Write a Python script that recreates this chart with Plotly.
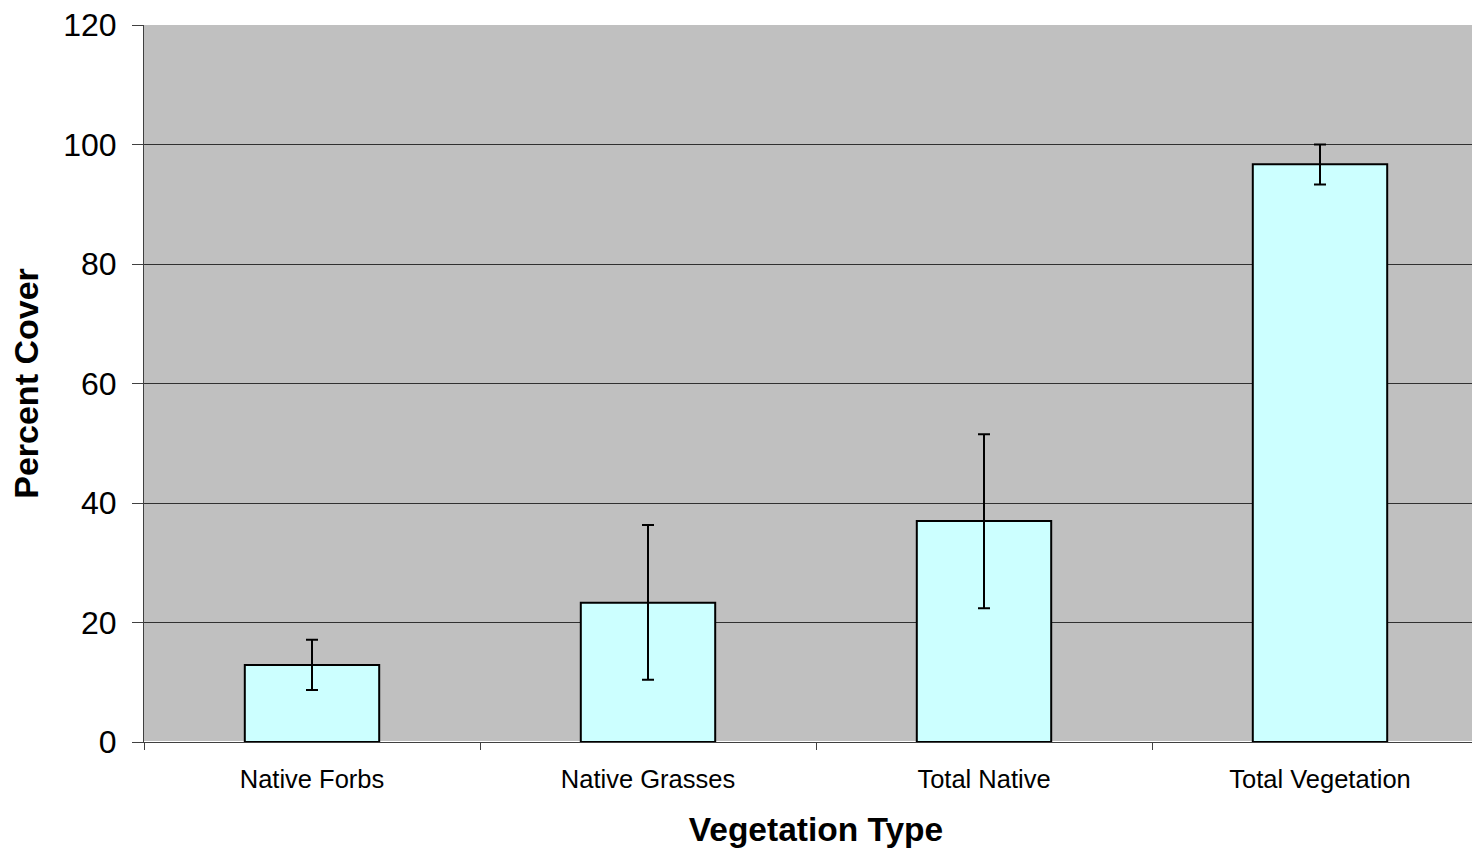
import plotly.graph_objects as go

categories = ["Native Forbs", "Native Grasses", "Total Native", "Total Vegetation"]
means = [12.9, 23.3, 37.0, 96.7]
err_plus = [4.2, 13.0, 14.5, 3.3]
err_minus = [4.2, 12.9, 14.6, 3.4]

fig = go.Figure()
fig.add_trace(go.Bar(
    x=categories, y=means,
    marker=dict(color="#CCFFFF", line=dict(color="black", width=2)),
    error_y=dict(type="data", array=err_plus, arrayminus=err_minus,
                 symmetric=False, color="black", thickness=2, width=6),
    width=0.4,
))

fig.update_layout(
    width=1488, height=848,
    margin=dict(l=144, r=0, t=25, b=106, autoexpand=False),
    paper_bgcolor="white", plot_bgcolor="#C0C0C0",
    font=dict(family="Arial, Liberation Sans, sans-serif", color="black"),
    showlegend=False,
)
fig.update_xaxes(
    tickson="boundaries", ticks="outside", ticklen=7, tickcolor="#404040",
    showline=True, linecolor="#404040", linewidth=1,
    tickfont=dict(size=25.5), ticklabelstandoff=14, automargin=False,
    title=dict(text="<b>Vegetation Type</b>", font=dict(size=33.5), standoff=25),
)
fig.update_yaxes(
    range=[0, 120], dtick=20, ticks="outside", ticklen=11, tickcolor="#404040",
    showline=True, linecolor="#404040", linewidth=1,
    showgrid=True, gridcolor="#303030", gridwidth=1,
    tickfont=dict(size=32), ticklabelstandoff=9, automargin=False,
    title=dict(text="<b>Percent Cover</b>", font=dict(size=34), standoff=14),
)

fig.write_html("out.html", config={"displayModeBar": False},
               post_script="document.body.style.margin='0';document.body.style.overflow='hidden';")
